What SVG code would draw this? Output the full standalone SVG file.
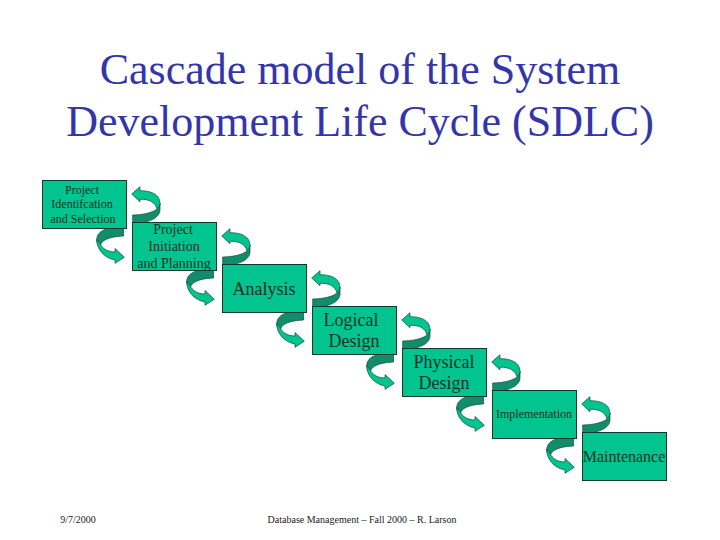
<svg xmlns="http://www.w3.org/2000/svg" width="720" height="540" viewBox="0 0 720 540">
<style>
text{font-family:"Liberation Serif","Times New Roman",serif;text-anchor:middle;fill:#123228}
.title{font-size:44px;fill:#3535ab}
.foot{font-size:10px;fill:#222}
.box{fill:#02c48f;stroke:#0b3b2e;stroke-width:1}
.lt{fill:#02c48f;stroke:#0d4a3a;stroke-width:.7;stroke-linejoin:round}
.dk{fill:#128d6b;stroke:#0d4a3a;stroke-width:.7;stroke-linejoin:round}
</style>
<defs>
<g id="up">
<path class="dk" d="M160 203C160 210 150 214.500 132.700 215V222.700H142C153 221 160 216 160 210Z"/>
<path class="lt" d="M131.700 194L140 186.700V190.700C150 190.500 160 194 160 203.300C160 205.500 158.500 207.500 156.700 208.300C155.500 203 150 199 140 199.300V201.700Z"/>
</g>
<g id="down">
<path class="dk" d="M123.500 228.300H110C103 229 97 233 96.700 239.500C97 243 98 245 100 246.500C101 241 107 236.800 123.500 236Z"/>
<path class="lt" d="M96.700 239.500C96.500 249 104 258 115 260V263.300L124.300 257.300L115 248.500V252C107 252 102 248 100 243.500Z"/>
</g>
</defs>
<text class="title" x="360" y="84">Cascade model of the System</text>
<text class="title" x="360" y="136">Development Life Cycle (SDLC)</text>
<g id="connectors">
<use href="#up"/>
<use href="#down"/>
<use href="#up" x="90" y="42"/>
<use href="#down" x="90" y="42"/>
<use href="#up" x="180" y="84"/>
<use href="#down" x="180" y="84"/>
<use href="#up" x="270" y="126"/>
<use href="#down" x="270" y="126"/>
<use href="#up" x="360" y="168"/>
<use href="#down" x="360" y="168"/>
<use href="#up" x="450" y="210"/>
<use href="#down" x="450" y="210"/>
</g>
<g id="n1"><rect class="box" x="42.500" y="180.500" width="84" height="48"/>
<text x="82" y="194" font-size="12">Project</text><text x="82" y="208" font-size="12">Identifcation</text><text x="83" y="223" font-size="12">and Selection</text></g>
<g id="n2"><rect class="box" x="132.500" y="222.500" width="84" height="48"/>
<text x="173" y="234" font-size="14">Project</text><text x="174" y="251" font-size="14">Initiation</text><text x="174" y="268" font-size="14">and Planning</text></g>
<g id="n3"><rect class="box" x="222.500" y="264.500" width="84" height="48"/>
<text x="264" y="295" font-size="18">Analysis</text></g>
<g id="n4"><rect class="box" x="312.500" y="306.500" width="84" height="48"/>
<text x="351" y="326" font-size="18">Logical</text><text x="354" y="347" font-size="18">Design</text></g>
<g id="n5"><rect class="box" x="402.500" y="348.500" width="84" height="48"/>
<text x="444" y="368" font-size="18">Physical</text><text x="444" y="389" font-size="18">Design</text></g>
<g id="n6"><rect class="box" x="492.500" y="390.500" width="84" height="48"/>
<text x="534" y="418" font-size="12">Implementation</text></g>
<g id="n7"><rect class="box" x="582.500" y="432.500" width="84" height="48"/>
<text x="624" y="462" font-size="16">Maintenance</text></g>
<text class="foot" x="78" y="523">9/7/2000</text>
<text class="foot" x="362" y="523">Database Management – Fall 2000 – R. Larson</text>
</svg>
